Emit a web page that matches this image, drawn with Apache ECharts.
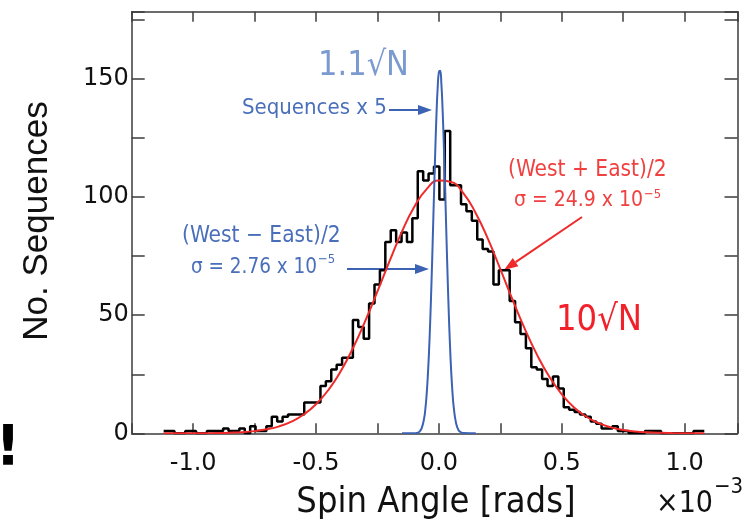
<!DOCTYPE html>
<html><head><meta charset="utf-8">
<script src="https://cdn.jsdelivr.net/npm/echarts@6/dist/echarts.min.js"></script>
<style>html,body{margin:0;padding:0;background:#fff}#c{width:754px;height:524px}</style>
</head><body><div id="c"></div>
<script>
// ---- data ----
const binStart = -1.12;     // x10^-3 rad
const binWidth = 0.022;
const counts = [1,1,0,0,1,1,0,0,1,1,
  1,2,1,1,2,0,3,1,1,3,
  7,5,7,8,8,8,13,13,13,20,
  22,27,29,32,32,48,45,40,55,63,
  69,81,86,81,85,81,91,111,107,110,
  113,99,128,105,105,97,94,90,82,78,
  77,63,69,69,56,47,42,36,28,27,
  23,20,24,19,11,10,9,8,7,5,
  4,2,2,3,1,1,0,0,0,1,
  1,1,0,0,0,0,0,0,1,1];
const redX = [-1.12,-1.1,-1.05,-1.0,-0.95,-0.9,-0.85,-0.8,-0.75,-0.7,-0.65,-0.6,-0.55,-0.5,-0.45,-0.4,-0.35,-0.3,-0.25,-0.2,-0.15,-0.1,-0.05,0,0.05,0.1,0.15,0.2,0.25,0.3,0.35,0.4,0.45,0.5,0.55,0.6,0.65,0.7,0.75,0.8,0.85,0.9,0.95,1.0,1.05,1.08];
const redY = [0,0.01,0.01,0.03,0.06,0.12,0.25,0.48,0.92,1.68,2.93,4.93,7.95,12.3,18.3,26.2,36.0,47.5,60.1,73.1,85.5,95.9,103.4,107.0,106.4,101.6,93.2,82.2,69.5,56.5,44.1,33.1,23.8,16.5,10.9,7.0,4.3,2.5,1.42,0.77,0.4,0.2,0.1,0.05,0.02,0.01];
const blueX = [-0.15,-0.1,-0.09,-0.08,-0.07,-0.06,-0.055,-0.05,-0.045,-0.04,-0.035,-0.03,-0.025,-0.02,-0.015,-0.01,-0.005,0,0.005,0.01,0.015,0.02,0.025,0.03,0.035,0.04,0.045,0.05,0.055,0.06,0.07,0.08,0.09,0.1,0.15];
const blueY = [0,0.03,0.15,0.6,2.2,6.4,10.4,16.3,24.4,35.1,48.5,64.4,82.2,100.9,118.8,134.5,146.3,152.9,153.5,148.1,137.2,122.2,104.6,85.9,67.9,51.5,37.6,26.3,17.7,11.4,4.2,1.3,0.4,0.1,0];
const xTickValues = [-1.0,-0.5,0.0,0.5,1.0];
const xTickLabels = ['-1.0','-0.5','0.0','0.5','1.0'];
const yTickValues = [0,50,100,150];
const yTickLabels = ['0','50','100','150'];

// ---- build series data ----
const histData = counts.map((c,i)=>[binStart + i*binWidth, c]);
histData.push([binStart + counts.length*binWidth, counts[counts.length-1]]);
const redData = redX.map((x,i)=>[x, redY[i]]);
const blueData = blueX.map((x,i)=>[x, blueY[i]]);

const frameColor = '#3c3c3c';
const tickFont = '"DejaVu Sans", sans-serif';
const annFont = '"DejaVu Sans Condensed", "DejaVu Sans", sans-serif';

function fmtX(v){
  for (let i=0;i<xTickValues.length;i++) if (Math.abs(v-xTickValues[i])<1e-6) return xTickLabels[i];
  return '';
}
function fmtY(v){
  for (let i=0;i<yTickValues.length;i++) if (Math.abs(v-yTickValues[i])<1e-6) return yTickLabels[i];
  return '';
}

function arrow(x1,y1,x2,y2,color){
  const a = Math.atan2(y2-y1, x2-x1), L = 14, H = 5;
  const c = Math.cos(a), s = Math.sin(a);
  const bx = x2 - L*c, by = y2 - L*s;
  return [
    {type:'line', shape:{x1:x1,y1:y1,x2:bx,y2:by}, style:{stroke:color, lineWidth:2}},
    {type:'polygon', shape:{points:[[x2,y2],[bx + H*s, by - H*c],[bx - H*s, by + H*c]]}, style:{fill:color}}
  ];
}
function txt(x,y,text,font,color,align,extra){
  return Object.assign({type:'text', x:x, y:y, style:{text:text, font:font, fill:color, textAlign:align||'left', textVerticalAlign:'middle'}}, extra||{});
}

const blueTxt = '#4a6fba', redTxt = '#f04040';
const graphics = [].concat(
  [txt(318, 66, '1.1√N', '34px ' + annFont, '#7b9bd0')],
  [txt(242, 108, 'Sequences x 5', '22px ' + annFont, blueTxt)],
  arrow(389,110,432,110,'#3b62b3'),
  [txt(182, 236, '(West − East)/2', '22.5px ' + annFont, blueTxt)],
  [txt(317, 268, 'σ = 2.76 x 10', '20.5px ' + annFont, blueTxt, 'right')],
  [txt(318, 260, '−5', '13px ' + annFont, blueTxt)],
  arrow(347,269,429,269,'#3b62b3'),
  [txt(508, 170, '(West + East)/2', '22.5px ' + annFont, redTxt)],
  [txt(643, 201, 'σ = 24.9 x 10', '21px ' + annFont, redTxt, 'right')],
  [txt(644, 195, '−5', '13px ' + annFont, redTxt)],
  arrow(582,217,504,270,'#ee2a2a'),
  [txt(556, 321, '10√N', '36px ' + annFont, '#f2202a')],
  [txt(37, 221, 'No. Sequences', '35px "Liberation Sans", Arial, sans-serif', '#111', 'center', {rotation: Math.PI/2})],
  [txt(436, 503, 'Spin Angle [rads]', '36px ' + annFont, '#111', 'center')],
  [txt(713, 504, '×10', '30px ' + annFont, '#111', 'right')],
  [txt(714, 487, '−3', '22px ' + annFont, '#111')],
  [txt(8, 449, '!', 'bold 56px "DejaVu Sans", sans-serif', '#000', 'center')]
);

const axisCommon = {
  axisLine:{show:true, onZero:false, lineStyle:{color:frameColor, width:1.5}},
  splitLine:{show:false}
};
const chart = echarts.init(document.getElementById('c'), null, {renderer:'canvas'});
chart.setOption({
  animation:false,
  backgroundColor:'#fff',
  grid:{left:131.7, right:16.5, top:11.7, bottom:90.7, containLabel:false},
  xAxis:[
    Object.assign({type:'value', min:-1.25, max:1.215, interval:0.25, position:'bottom',
      axisTick:{show:true, inside:true, length:10, lineStyle:{color:frameColor, width:1.5}},
      axisLabel:{show:true, margin:18, formatter:fmtX, color:'#111', fontSize:24, fontFamily:tickFont, showMinLabel:true, showMaxLabel:true, hideOverlap:false}
    }, axisCommon),
    Object.assign({type:'value', min:-1.25, max:1.215, interval:0.25, position:'top',
      axisTick:{show:true, inside:true, length:10, lineStyle:{color:frameColor, width:1.5}},
      axisLabel:{show:false}
    }, axisCommon)
  ],
  yAxis:[
    Object.assign({type:'value', min:0, max:178.5, interval:25, position:'left',
      axisTick:{show:true, inside:true, length:13, lineStyle:{color:frameColor, width:1.5}},
      axisLabel:{show:true, margin:3, formatter:fmtY, color:'#111', fontSize:24, fontFamily:tickFont, showMinLabel:true, showMaxLabel:true, hideOverlap:false}
    }, axisCommon),
    Object.assign({type:'value', min:0, max:178.5, interval:25, position:'right',
      axisTick:{show:true, inside:true, length:13, lineStyle:{color:frameColor, width:1.5}},
      axisLabel:{show:false}
    }, axisCommon)
  ],
  series:[
    {type:'line', name:'hist', data:histData, step:'end', symbol:'none', xAxisIndex:0, yAxisIndex:0,
      lineStyle:{color:'#000', width:2.5}, z:2},
    {type:'line', name:'sum', data:redData, smooth:true, symbol:'none',
      lineStyle:{color:'#ee2a2a', width:2}, z:3},
    {type:'line', name:'diff', data:blueData, smooth:true, symbol:'none',
      lineStyle:{color:'#3b62b3', width:2}, z:4}
  ],
  graphic: graphics
});
</script></body></html>
